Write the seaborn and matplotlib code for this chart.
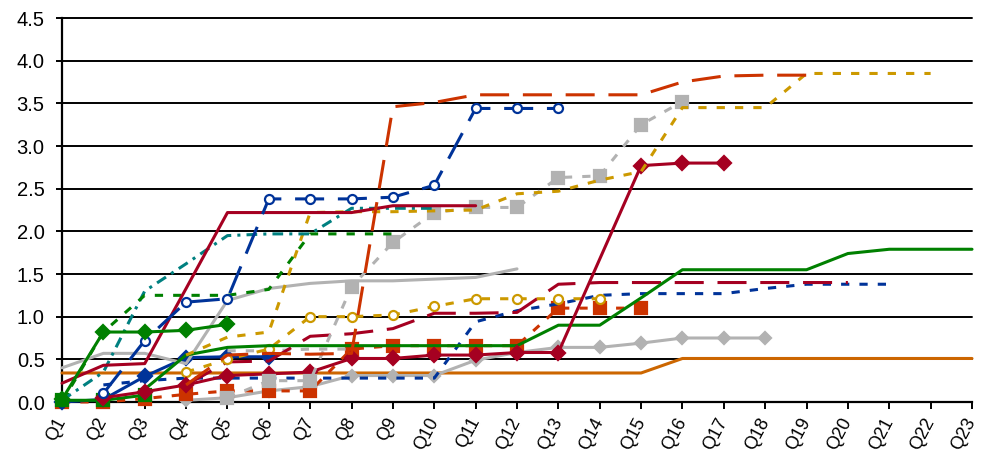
import numpy as np
import pandas as pd
import matplotlib
matplotlib.use("Agg")
import matplotlib.pyplot as plt
import seaborn as sns

N = np.nan

quarters = ["Q1", "Q2", "Q3", "Q4", "Q5", "Q6", "Q7", "Q8", "Q9", "Q10", "Q11", "Q12",
            "Q13", "Q14", "Q15", "Q16", "Q17", "Q18", "Q19", "Q20", "Q21", "Q22", "Q23"]
y_ticks = [0.0, 0.5, 1.0, 1.5, 2.0, 2.5, 3.0, 3.5, 4.0, 4.5]

orange_flat = [0.34, 0.34, 0.34, 0.34, 0.34, 0.34, 0.34, 0.34, 0.34, 0.34, 0.34, 0.34,
               0.34, 0.34, 0.34, 0.51, 0.51, 0.51, 0.51, 0.51, 0.51, 0.51, 0.51]
gray_diamond = [N, N, N, 0.02, 0.05, 0.13, 0.18, 0.31, 0.31, 0.31, 0.49, 0.58,
                0.64, 0.64, 0.69, 0.75, 0.75, 0.75, N, N, N, N, N]
red_square = [0.0, 0.0, 0.04, 0.09, 0.13, 0.13, 0.13, 0.62, 0.66, 0.66, 0.66, 0.66,
              1.1, 1.1, 1.1, N, N, N, N, N, N, N, N]
blue_diamond = [0.0, 0.03, 0.3, 0.52, 0.53, 0.53, N, N, N, N, N, N,
                N, N, N, N, N, N, N, N, N, N, N]
blue_dash = [N, 0.2, 0.25, 0.28, 0.28, 0.28, 0.28, 0.28, 0.28, 0.28, 0.94, 1.07,
             1.15, 1.25, 1.27, 1.27, 1.27, 1.33, 1.38, 1.38, 1.38, N, N]
green_square = [0.02, 0.02, 0.08, N, N, N, N, N, N, N, N, N,
                N, N, N, N, N, N, N, N, N, N, N]
gray_dash = [N, N, N, N, 0.6, 0.6, 0.62, 0.62, N, N, N, N,
             N, N, N, N, N, N, N, N, N, N, N]
crimson_longdash = [N, N, N, 0.2, 0.47, 0.48, 0.77, 0.8, 0.86, 1.04, 1.04, 1.05,
                    1.38, 1.4, 1.4, 1.4, 1.4, 1.4, 1.4, 1.4, N, N, N]
gold_circle = [N, N, N, 0.35, 0.5, 0.62, 1.0, 1.0, 1.02, 1.12, 1.21, 1.21,
               1.21, 1.21, N, N, N, N, N, N, N, N, N]
gray_solid = [0.4, 0.57, 0.57, 0.45, 1.19, 1.33, 1.39, 1.42, 1.42, 1.44, 1.46, 1.56,
              N, N, N, N, N, N, N, N, N, N, N]
green_solid = [N, N, 0.15, 0.55, 0.64, 0.66, 0.66, 0.66, 0.66, 0.66, 0.66, 0.66,
               0.9, 0.9, 1.22, 1.55, 1.55, 1.55, 1.55, 1.74, 1.79, 1.79, 1.79]
crimson_diamond = [N, 0.05, 0.12, 0.2, 0.31, 0.33, 0.35, 0.51, 0.51, 0.55, 0.55, 0.58,
                   0.58, N, 2.77, 2.8, 2.8, N, N, N, N, N, N]
gray_square = [N, N, N, N, 0.05, 0.25, 0.25, 1.35, 1.87, 2.22, 2.28, 2.28,
               2.63, 2.65, 3.25, 3.52, N, N, N, N, N, N, N]
gold_dash = [N, N, N, 0.55, 0.76, 0.82, 2.22, 2.23, 2.23, 2.24, 2.25, 2.44,
             2.47, 2.6, 2.7, 3.45, 3.45, 3.45, 3.85, 3.85, 3.85, 3.85, N]
teal_dashdot = [0.02, 0.35, 1.3, 1.62, 1.95, 1.97, 1.97, 2.27, 2.27, 2.27, N, N,
                N, N, N, N, N, N, N, N, N, N, N]
green_dash = [0.0, 0.82, 1.25, 1.25, 1.25, 1.32, 1.97, 1.97, 1.97, N, N, N,
              N, N, N, N, N, N, N, N, N, N, N]
crimson_solid = [0.22, 0.43, 0.45, 1.33, 2.22, 2.22, 2.22, 2.22, 2.3, 2.3, 2.3, N,
                 N, N, N, N, N, N, N, N, N, N, N]
blue_circle = [N, 0.1, 0.72, 1.17, 1.21, 2.38, 2.38, 2.38, 2.4, 2.54, 3.44, 3.44,
               3.44, N, N, N, N, N, N, N, N, N, N]
green_diamond = [0.03, 0.82, 0.82, 0.84, 0.91, N, N, N, N, N, N, N,
                 N, N, N, N, N, N, N, N, N, N, N]
red_longdash = [N, N, N, 0.2, 0.55, 0.57, 0.56, 0.57, 3.46, 3.51, 3.6, 3.6,
                3.6, 3.6, 3.6, 3.75, 3.82, 3.83, 3.83, N, N, N, N]

RED = "#CC3300"
CRIMSON = "#A50021"
BLUE = "#003399"
GREEN = "#008000"
TEAL = "#008080"
GOLD = "#CC9900"
GRAY = "#B2B2B2"
ORANGE = "#CC6600"

LONG = (0, (9.5, 4.5))
SHORT = (0, (2.7, 3.3))
DASHDOT = (0, (3.5, 2, 1, 2))

# (values, colour, linestyle, marker, markersize, filled marker)
series = [
    (orange_flat, ORANGE, "-", None, 0, True),
    (gray_diamond, GRAY, "-", "D", 6, True),
    (red_square, RED, SHORT, "s", 8, True),
    (blue_diamond, BLUE, "-", "D", 7, True),
    (blue_dash, BLUE, SHORT, None, 0, True),
    (green_square, GREEN, "-", "s", 8, True),
    (gray_dash, GRAY, SHORT, None, 0, True),
    (crimson_longdash, CRIMSON, LONG, None, 0, True),
    (gold_circle, GOLD, SHORT, "o", 6.5, False),
    (gray_solid, GRAY, "-", None, 0, True),
    (green_solid, GREEN, "-", None, 0, True),
    (crimson_diamond, CRIMSON, "-", "D", 7, True),
    (gray_square, GRAY, SHORT, "s", 8, True),
    (gold_dash, GOLD, SHORT, None, 0, True),
    (teal_dashdot, TEAL, DASHDOT, None, 0, True),
    (green_dash, GREEN, SHORT, None, 0, True),
    (crimson_solid, CRIMSON, "-", None, 0, True),
    (blue_circle, BLUE, LONG, "o", 6.5, False),
    (green_diamond, GREEN, "-", "D", 7, True),
    (red_longdash, RED, LONG, None, 0, True),
]

sns.set_theme(style="white")
plt.rcParams["font.family"] = ["Liberation Sans", "DejaVu Sans"]

fig = plt.figure(figsize=(9.84, 4.61), dpi=100)
ax = fig.add_axes([62 / 984, 1 - 402 / 461, 910 / 984, 384 / 461])
fig.patch.set_facecolor("white")
ax.set_facecolor("white")

# horizontal gridlines behind the data
for yv in y_ticks[1:]:
    ax.axhline(yv, color="black", lw=1.4, zorder=1)

pos = np.arange(len(quarters))
for vals, col, ls, mk, ms, filled in series:
    df = pd.DataFrame({"q": pos, "v": vals}).dropna()
    kws = dict(color=col, linestyle=ls, linewidth=2.2, ax=ax, zorder=3)
    if mk is not None:
        kws.update(marker=mk, markersize=ms, markeredgecolor=col,
                   markeredgewidth=1.6,
                   markerfacecolor=col if filled else "white")
    sns.lineplot(data=df, x="q", y="v", **kws)

for ln in ax.lines:
    ln.set_clip_on(False)

ax.set_xlim(0, len(quarters) - 1)
ax.set_ylim(0, 4.5)
ax.set_yticks(y_ticks)
ax.set_yticklabels([f"{t:.1f}" for t in y_ticks], fontsize=14.5)
ax.set_xticks(pos)
ax.set_xticklabels(quarters, fontsize=13, rotation=62, ha="right",
                   va="center", rotation_mode="anchor")
ax.set_xlabel("")
ax.set_ylabel("")

for side in ["top", "right"]:
    ax.spines[side].set_visible(False)
for side in ["left", "bottom"]:
    ax.spines[side].set_visible(True)
    ax.spines[side].set_color("black")
    ax.spines[side].set_linewidth(1.6)
    ax.spines[side].set_zorder(2)

ax.tick_params(axis="y", direction="out", length=4.5, width=1.4, color="black",
               pad=8, left=True, labelcolor="black")
ax.tick_params(axis="x", direction="out", length=5, width=1.4, color="black",
               pad=7, bottom=True, labelcolor="black")

fig.savefig("out.png", dpi=100, facecolor="white")
